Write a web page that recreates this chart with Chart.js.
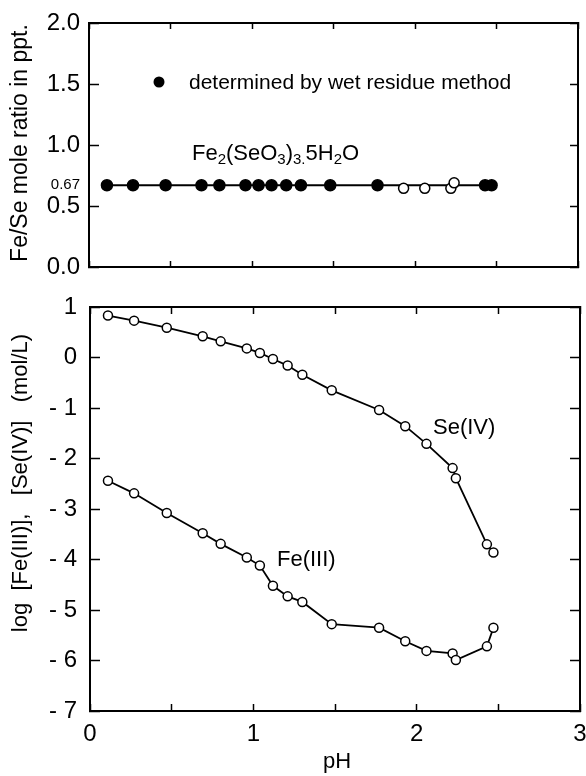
<!DOCTYPE html>
<html>
<head>
<meta charset="utf-8">
<script src="https://cdn.jsdelivr.net/npm/chart.js@4.4.0/dist/chart.umd.min.js"></script>
<style>
	html, body { margin: 0; padding: 0; background: #fff; }
	#wrap { position: relative; width: 586px; height: 776px; }
	canvas { position: absolute; left: 0; }
	#chart-ratio { top: 0; }
	#chart-conc { top: 290px; }
</style>
</head>
<body>
<div id="wrap">
	<canvas id="chart-ratio" width="586" height="290"></canvas>
	<canvas id="chart-conc" width="586" height="486"></canvas>
</div>
<script>
// pH of each run (shared by both panels)
const runPH = [0.11, 0.27, 0.47, 0.69, 0.80, 0.96, 1.04, 1.12, 1.21, 1.30, 1.48, 1.77, 1.93, 2.06, 2.22, 2.24, 2.43, 2.47];
// Fe/Se mole ratio in precipitate
const ratioValue = [0.67, 0.67, 0.67, 0.67, 0.67, 0.67, 0.67, 0.67, 0.67, 0.67, 0.67, 0.67, 0.645, 0.645, 0.645, 0.69, 0.67, 0.67];
const ratioWet = [true, true, true, true, true, true, true, true, true, true, true, true, false, false, false, false, true, true];
const ratioIdeal = 0.67;
// log concentrations (mol/L)
const seLog = [0.83, 0.73, 0.59, 0.42, 0.32, 0.18, 0.09, -0.03, -0.16, -0.34, -0.65, -1.04, -1.36, -1.71, -2.19, -2.39, -3.70, -3.86];
const feLog = [-2.44, -2.69, -3.08, -3.48, -3.69, -3.96, -4.12, -4.52, -4.73, -4.84, -5.28, -5.35, -5.62, -5.81, -5.86, -5.99, -5.72, -5.35];
// tick values
const pHTicks = [0, 0.5, 1, 1.5, 2, 2.5, 3];
const ratioTicks = [0, 0.5, 0.67, 1, 1.5, 2];
const logTicks = [-7, -6, -5, -4, -3, -2, -1, 0, 1];

const FONT = '"Liberation Sans", Arial, Helvetica, sans-serif';
Chart.defaults.font.family = FONT;
Chart.defaults.color = '#000';

var setTicks = function (list) {
	return function (scale) {
		scale.ticks = list.map(v => ({value: v}));
	};
};
var fixSize = function (w, h) {
	return function (scale) {
		if (w !== null) scale.width = w;
		if (h !== null) scale.height = h;
		scale.paddingLeft = 0;
		scale.paddingRight = 0;
		scale.paddingTop = 0;
		scale.paddingBottom = 0;
	};
};
var frameAxis = function (pos, min, max, list, w, h, tickLen) {
	return {
		type: 'linear', position: pos, min: min, max: max,
		afterBuildTicks: setTicks(list),
		afterFit: fixSize(w, h),
		ticks: {display: false, autoSkip: false},
		grid: {drawOnChartArea: false, tickLength: tickLen, tickColor: '#000', tickWidth: 1.5},
		border: {color: '#000', width: 2}
	};
};

// Top panel: Fe/Se ratio
var ratioAnnot = {
	id: 'ratioAnnot',
	afterDraw: function (chart) {
		const c = chart.ctx;
		c.save();
		c.fillStyle = '#000';
		c.save();
		c.translate(21, 143);
		c.rotate(-Math.PI / 2);
		c.font = '23px ' + FONT;
		c.textAlign = 'center';
		c.textBaseline = 'middle';
		c.fillText('Fe/Se mole ratio in ppt.', 0, 0);
		c.restore();
		// legend
		c.beginPath();
		c.arc(159, 82, 5.5, 0, Math.PI * 2);
		c.fill();
		c.font = '21px ' + FONT;
		c.textAlign = 'left';
		c.textBaseline = 'alphabetic';
		c.fillText('determined by wet residue method', 189, 89);
		// formula with subscripts
		let x = 192;
		const parts = [['Fe', 0], ['2', 1], ['(SeO', 0], ['3', 1], [')', 0], ['3.', 1], ['5H', 0], ['2', 1], ['O', 0]];
		parts.forEach(p => {
			c.font = (p[1] ? '15px ' : '22px ') + FONT;
			c.fillText(p[0], x, p[1] ? 164 : 160);
			x += c.measureText(p[0]).width;
		});
		c.restore();
	}
};

let ratioCtx = document.getElementById('chart-ratio');
new Chart(ratioCtx, {
	type: 'scatter',
	data: {
		datasets: [{
			data: runPH.map((p, i) => ({x: p, y: ratioValue[i]})),
			pointRadius: ratioWet.map(w => w ? 5.5 : 5),
			pointBackgroundColor: ratioWet.map(w => w ? '#000' : '#fff'),
			pointBorderColor: '#000',
			pointBorderWidth: 1.5,
			showLine: false
		}, {
			data: [{x: runPH[0], y: ratioIdeal}, {x: runPH[runPH.length - 1], y: ratioIdeal}],
			showLine: true,
			borderColor: '#000',
			borderWidth: 1.8,
			pointRadius: 0
		}]
	},
	options: {
		responsive: false,
		animation: false,
		layout: {padding: {top: 23, right: 8, left: 0, bottom: 0}},
		plugins: {legend: {display: false}, tooltip: {enabled: false}},
		scales: {
			x: frameAxis('bottom', 0, 3, pHTicks, null, 23, -6),
			x2: frameAxis('top', 0, 3, pHTicks, null, 0, -6),
			y: {
				type: 'linear', position: 'left', min: 0, max: 2,
				afterBuildTicks: setTicks(ratioTicks),
				afterFit: fixSize(89, null),
				ticks: {
					autoSkip: false,
					padding: 19,
					callback: v => v === ratioIdeal ? '0.67' : v.toFixed(1),
					font: c => (c.tick && c.tick.value === ratioIdeal) ? {size: 15} : {size: 24}
				},
				grid: {
					drawOnChartArea: false, tickLength: -10, tickWidth: 1.5,
					tickColor: c => (c.tick && c.tick.value === ratioIdeal) ? 'rgba(0,0,0,0)' : '#000'
				},
				border: {color: '#000', width: 2}
			},
			y2: frameAxis('right', 0, 2, [0, 0.5, 1, 1.5, 2], 0, null, -8)
		}
	},
	plugins: [ratioAnnot]
});

// Bottom panel: log concentrations
var concAnnot = {
	id: 'concAnnot',
	afterDraw: function (chart) {
		const c = chart.ctx;
		c.save();
		c.fillStyle = '#000';
		c.save();
		c.translate(21, 193);
		c.rotate(-Math.PI / 2);
		c.font = '22px ' + FONT;
		c.textAlign = 'center';
		c.textBaseline = 'middle';
		c.fillText('log  [Fe(III)],   [Se(IV)]   (mol/L)', 0, 0);
		c.restore();
		c.font = '22px ' + FONT;
		c.textAlign = 'left';
		c.textBaseline = 'middle';
		c.fillText('Se(IV)', 433, 138);
		c.fillText('Fe(III)', 277, 270);
		c.textAlign = 'center';
		c.fillText('pH', 337, 472);
		c.restore();
	}
};

var seriesStyle = {
	showLine: true,
	borderColor: '#000',
	borderWidth: 1.8,
	pointRadius: 4.5,
	pointBackgroundColor: '#fff',
	pointBorderColor: '#000',
	pointBorderWidth: 1.5
};

let concCtx = document.getElementById('chart-conc');
new Chart(concCtx, {
	type: 'scatter',
	data: {
		datasets: [
			Object.assign({label: 'Se(IV)', data: runPH.map((p, i) => ({x: p, y: seLog[i]}))}, seriesStyle),
			Object.assign({label: 'Fe(III)', data: runPH.map((p, i) => ({x: p, y: feLog[i]}))}, seriesStyle)
		]
	},
	options: {
		responsive: false,
		animation: false,
		layout: {padding: {top: 17, right: 6, left: 0, bottom: 0}},
		plugins: {legend: {display: false}, tooltip: {enabled: false}},
		scales: {
			x: {
				type: 'linear', position: 'bottom', min: 0, max: 3,
				afterBuildTicks: setTicks(pHTicks),
				afterFit: fixSize(null, 65),
				ticks: {
					autoSkip: false, maxRotation: 0, padding: 16,
					callback: v => Number.isInteger(v) ? String(v) : '',
					font: {size: 24}
				},
				grid: {drawOnChartArea: false, tickLength: -7, tickColor: '#000', tickWidth: 1.5},
				border: {color: '#000', width: 2}
			},
			x2: frameAxis('top', 0, 3, pHTicks, null, 0, -7),
			y: {
				type: 'linear', position: 'left', min: -7, max: 1,
				afterBuildTicks: setTicks(logTicks),
				afterFit: fixSize(90, null),
				ticks: {
					autoSkip: false, padding: 23,
					callback: v => v < 0 ? '- ' + (-v) : String(v),
					font: {size: 24}
				},
				grid: {drawOnChartArea: false, tickLength: -10, tickColor: '#000', tickWidth: 1.5},
				border: {color: '#000', width: 2}
			},
			y2: frameAxis('right', -7, 1, logTicks, 0, null, -10)
		}
	},
	plugins: [concAnnot]
});
</script>
</body>
</html>
